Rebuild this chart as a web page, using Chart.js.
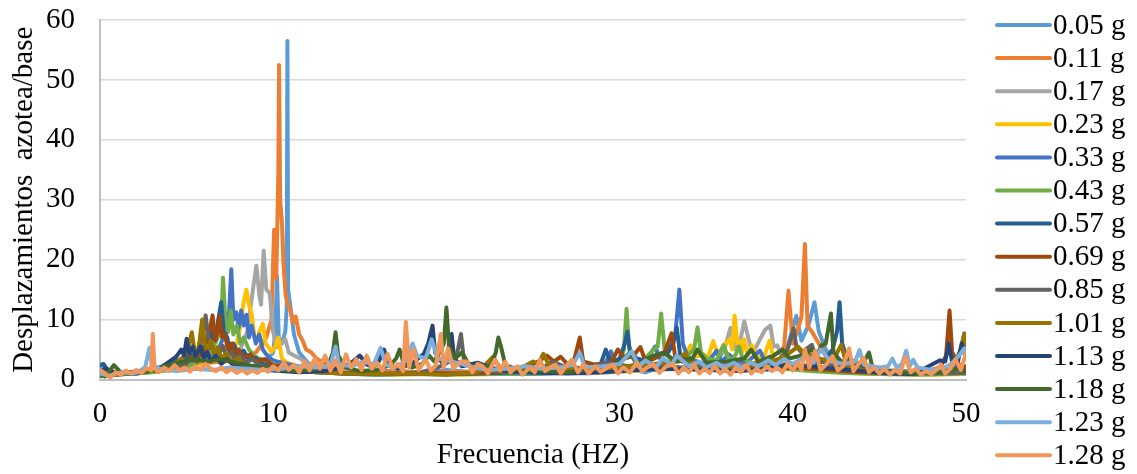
<!DOCTYPE html>
<html>
<head>
<meta charset="utf-8">
<script src="https://cdn.jsdelivr.net/npm/chart.js@4"></script>
<style>
  html, body { margin: 0; padding: 0; background: #fff; }
  #wrap { width: 1137px; height: 474px; }
</style>
</head>
<body>
<div id="wrap"><canvas id="chart"></canvas></div>
<script>
// Espectros azotea/base: [frecuencia (Hz), amplitud] por cada nivel de aceleración
const g005 = [[0,1.4],[0.2,2.5],[0.6,1.2],[1.2,1.0],[2,1.3],[2.8,1.6],[3.6,1.5],[4.5,2.2],[5.3,2.6],[6.1,3.0],[6.9,3.4],[7.6,3.8],[8.3,4.2],[9.0,3.6],[9.6,3.2],[10.0,4.5],[10.12,8],[10.22,17.3],[10.32,7],[10.5,6],[10.7,8],[10.78,12],[10.82,56.5],[10.86,15],[11.0,12],[11.2,7.5],[11.5,4.5],[12.0,2.8],[12.8,1.8],[14,1.4],[15.5,1.2],[17,1.5],[18.5,1.1],[20,1.6],[21.5,1.2],[23,1.4],[24.5,1.1],[26,1.5],[27.5,1.3],[29,1.7],[30.5,1.8],[31.5,1.2],[32.5,2.2],[33.5,1.5],[34.5,2.6],[35.5,1.8],[36.5,2.8],[37.5,2.0],[38.4,3.2],[38.9,2.4],[39.6,4.5],[40.2,10.6],[40.5,6.5],[40.9,9.0],[41.25,12.9],[41.5,8.0],[41.9,5.0],[42.5,3.2],[43.5,2.2],[45,1.6],[46.5,1.4],[48,1.2],[49.2,1.5],[50,1.2]];
const g011 = [[0,1.0],[0.8,1.3],[1.8,1.1],[3,1.5],[4.2,2.0],[5.2,2.2],[6.2,2.8],[7.2,3.0],[8.2,3.5],[9.0,4.5],[9.6,7.0],[9.9,10],[10.05,25],[10.18,17],[10.3,35],[10.34,52.5],[10.4,30],[10.5,26.5],[10.6,19],[10.72,14],[10.85,12.5],[11.0,11.5],[11.15,9.5],[11.3,10.5],[11.5,7.5],[11.7,6.5],[11.9,5.0],[12.2,4.5],[12.5,3.5],[13,2.6],[14,1.6],[15.5,1.2],[17,1.4],[19,1.1],[21,1.3],[23,1.2],[25,1.4],[27,1.3],[29,1.5],[31,1.6],[33,2.0],[35,1.8],[36.5,2.4],[37.8,2.8],[38.8,4.0],[39.3,4.7],[39.5,5.5],[39.75,14.8],[40.0,6.0],[40.3,8.5],[40.5,10.5],[40.7,22.6],[40.85,9.0],[41.1,8.0],[41.3,7.0],[41.6,5.5],[42,3.5],[42.6,2.5],[43.5,1.8],[45,1.4],[47,1.2],[49,1.3],[50,1.1]];
const g017 = [[0,0.8],[1,1.0],[2,1.2],[3,1.4],[4,1.8],[5,2.4],[6,3.0],[7,3.6],[7.6,4.2],[8.1,5.0],[8.5,8.0],[8.8,14.4],[9.03,19],[9.2,14],[9.3,12.5],[9.45,21.5],[9.6,15],[9.8,14.4],[10.0,8],[10.2,5.4],[10.4,6],[10.7,6.7],[10.9,4.5],[11.2,4.0],[11.5,3.6],[12,2.6],[13,1.8],[14.5,1.2],[16,1.0],[18,0.9],[20,1.1],[22,0.9],[24,1.0],[26,1.2],[28,1.0],[30,1.3],[32,1.6],[33.5,1.8],[34.5,2.4],[35.5,3.0],[36.0,4.5],[36.4,8.6],[36.7,5.0],[37.0,7.0],[37.2,9.7],[37.55,5.6],[37.8,5.0],[38.1,6.7],[38.4,8.3],[38.7,9.0],[38.9,5.5],[39.1,5.7],[39.4,3.5],[39.8,2.5],[40.5,2.0],[42,1.6],[44,1.2],[46,1.0],[48,0.9],[50,1.0]];
const g023 = [[0,0.7],[1.2,0.9],[2.4,1.1],[3.6,1.4],[4.8,2.0],[6,2.8],[7,3.4],[7.6,4.5],[7.9,6],[8.1,9],[8.3,13],[8.45,15],[8.6,12.5],[8.75,11],[8.9,7.5],[9.05,6.5],[9.2,8],[9.4,9.3],[9.55,6],[9.7,5.5],[9.9,4.6],[10.1,5.5],[10.3,7],[10.5,3.5],[10.8,2.8],[11.2,2.4],[11.8,2.0],[13,1.4],[15,1.0],[17,0.8],[19,1.0],[21,0.8],[23,0.9],[25,1.0],[27,1.1],[29,1.2],[31,1.5],[32.5,2.0],[33.3,3.0],[33.8,4.0],[34.1,5.7],[34.4,3.8],[34.85,4.2],[35.1,3.6],[35.4,6.4],[35.7,4.0],[36.0,5.7],[36.35,6.7],[36.5,5.0],[36.64,10.7],[36.8,6.0],[36.9,6.4],[37.05,4.5],[37.2,6.7],[37.4,4.0],[37.65,5.7],[37.9,3.8],[38.3,3.5],[38.66,6.5],[38.9,3.2],[39.5,2.9],[40.3,1.8],[42,1.3],[44,1.0],[46,0.9],[48,0.8],[50,0.9]];
const g033 = [[0,1.0],[1,0.8],[2,1.1],[3,1.3],[4,1.8],[5,2.4],[5.8,3.0],[6.4,4.0],[6.9,5.5],[7.2,7.5],[7.4,8],[7.58,18.4],[7.7,10],[7.87,11.2],[8.0,8.5],[8.15,11.5],[8.3,9],[8.45,10.8],[8.6,7],[8.75,9],[9.0,6],[9.2,7.5],[9.4,5],[9.6,4.2],[9.8,3.5],[10.2,3.0],[10.8,2.6],[11.2,2.4],[11.6,2],[12.5,1.4],[14,1.0],[16,0.8],[18,1.0],[20,0.9],[22,1.1],[24,0.9],[26,1.0],[28,1.2],[29,1.6],[29.5,4.7],[29.8,2.2],[30.5,2.2],[31.5,3.0],[32.05,5.5],[32.3,3.6],[32.8,5.0],[33.2,7.0],[33.45,15],[33.65,6],[33.9,4.0],[34.3,3.2],[35,2.5],[35.6,4.8],[35.9,3.0],[36.3,4.2],[36.8,3.0],[37.4,3.0],[38.1,4.8],[38.5,2.4],[39,2.0],[40,1.8],[41,2.0],[42,1.6],[43.5,1.2],[45,1.0],[47,0.9],[48.5,1.2],[49.4,3.0],[49.7,5.0],[49.9,7.7],[50,5.0]];
const g043 = [[0,0.6],[1,0.9],[2,1.0],[3,1.2],[4,1.6],[5,2.2],[5.8,3.0],[6.4,4.5],[6.8,7.0],[7.0,9.0],[7.1,17],[7.25,9.5],[7.4,8.0],[7.55,11.5],[7.7,7.5],[7.9,9.0],[8.1,6.0],[8.3,7.0],[8.6,5.0],[8.9,4.0],[9.3,3.2],[9.7,2.8],[10.2,2.4],[10.8,2.0],[11.5,1.6],[12.5,1.2],[14,1.0],[16,0.8],[18,0.9],[20,0.8],[22,1.0],[24,0.9],[26,1.1],[28,1.3],[29.4,2.0],[30.0,3.0],[30.25,5.0],[30.4,11.8],[30.55,5.5],[30.8,3.5],[31.3,3.0],[31.96,5.0],[32.2,5.5],[32.4,11],[32.6,5.0],[32.9,3.5],[33.4,3.0],[33.9,4.0],[34.3,5.0],[34.5,8.7],[34.7,4.5],[35.0,3.5],[35.6,3.2],[36.0,5.7],[36.3,3.5],[36.6,3.5],[36.9,5.5],[37.1,3.5],[37.6,2.8],[38.3,2.2],[39.5,1.8],[41,1.4],[43,1.1],[45,0.9],[47,0.8],[49,0.9],[50,1.0]];
const g057 = [[0,2.4],[0.2,2.6],[0.5,1.2],[1.2,1.0],[2,1.3],[3,1.5],[4,2.2],[4.5,3.2],[4.8,2.6],[5.2,4.4],[5.4,3.2],[5.7,5.2],[5.9,4.0],[6.1,6.8],[6.3,5.2],[6.5,8.0],[6.65,6.5],[6.8,9.5],[7.0,12.9],[7.15,8.0],[7.35,7.0],[7.5,4.6],[7.7,6.0],[8.0,4.2],[8.3,4.8],[8.6,3.2],[9.0,3.6],[9.4,2.6],[10,2.0],[11,1.6],[12.5,1.2],[14,1.0],[16,0.9],[18,1.1],[20,0.9],[22,1.0],[24,1.2],[26,1.1],[28,1.4],[28.9,2.5],[29.2,5.0],[29.5,2.8],[30.0,3.5],[30.3,6.0],[30.45,8.0],[30.6,4.5],[31.0,3.5],[31.6,3.0],[32.2,3.8],[32.8,4.5],[33.1,6.0],[33.3,8.7],[33.5,4.0],[34,3.0],[35,2.0],[36,1.6],[37,2.0],[38,1.5],[39,1.8],[40,2.0],[41,2.4],[41.8,3.0],[42.3,5.0],[42.55,8.0],[42.7,12.9],[42.85,6.0],[43.2,3.0],[44,1.8],[45.5,1.2],[47,1.0],[48.5,1.2],[49.5,2.0],[50,2.2]];
const g069 = [[0,0.8],[1,1.0],[2,1.2],[3,1.5],[4,2.0],[4.5,2.8],[4.9,2.4],[5.3,3.8],[5.6,3.0],[5.9,5.0],[6.05,4.2],[6.2,7.0],[6.35,8.5],[6.5,10.7],[6.65,6.5],[6.8,8.0],[6.9,10.6],[7.05,7.0],[7.2,7.5],[7.4,5.0],[7.6,6.0],[7.8,4.2],[8.0,5.0],[8.3,3.6],[8.7,4.2],[9,3.0],[9.5,3.4],[10,2.4],[11,2.0],[12,1.6],[13.5,1.2],[15,1.0],[17,0.9],[19,1.1],[21,1.0],[23,1.2],[24.5,1.8],[25.3,3.0],[25.8,4.0],[26.2,3.0],[26.6,3.8],[27.0,2.5],[27.4,3.5],[27.7,7.0],[27.9,3.0],[28.5,2.5],[29.5,2.8],[29.9,5.0],[30.3,3.5],[30.8,4.0],[31.2,5.4],[31.5,3.0],[32,3.5],[32.6,4.5],[33.0,7.7],[33.2,4.0],[33.6,3.0],[34.5,2.4],[36,2.0],[38,1.8],[40,2.0],[42,1.6],[44,1.2],[46,1.0],[47.5,1.2],[48.5,2.0],[48.85,4.0],[49.05,11.5],[49.2,4.5],[49.6,2.5],[50,2.0]];
const g085 = [[0,0.7],[1,0.9],[2,1.1],[3,1.4],[4,1.8],[4.8,2.5],[5.4,3.5],[5.7,5.0],[5.9,7.0],[6.1,10.7],[6.25,7.0],[6.4,6.0],[6.6,5.0],[6.9,4.4],[7.1,5.6],[7.3,3.8],[7.6,4.6],[7.8,3.2],[8.1,4.0],[8.4,2.8],[8.8,3.4],[9.2,2.4],[10,2.0],[11,1.8],[12,1.4],[13.5,1.1],[15,1.0],[17,0.9],[18.5,1.2],[19.5,2.0],[20.2,3.0],[20.6,4.0],[20.84,7.6],[21.0,3.5],[21.5,2.0],[22.5,1.4],[24,1.2],[25.5,1.8],[26.1,3.0],[26.8,2.2],[28,1.8],[29.3,2.8],[31,2.0],[32.5,2.4],[33.5,2.0],[35,2.2],[36.5,2.0],[37.5,2.4],[38.5,2.8],[39.3,3.5],[39.7,5.0],[40.05,8.5],[40.2,5.5],[40.5,4.5],[41.1,5.8],[41.3,4.0],[41.7,3.0],[42.5,2.2],[44,1.6],[46,1.2],[48,1.0],[50,1.1]];
const g101 = [[0,0.6],[1,0.8],[2,1.1],[3,1.4],[3.8,2.0],[4.4,2.8],[4.9,4.0],[5.1,5.5],[5.3,7.9],[5.45,5.0],[5.6,4.0],[5.75,6.5],[5.9,10],[6.05,6.0],[6.2,5.0],[6.4,6.5],[6.6,4.2],[6.8,5.4],[7,3.5],[7.3,4.4],[7.6,2.8],[8.0,3.6],[8.3,2.4],[9,2.0],[10,1.7],[11,1.5],[12.5,1.2],[14,1.0],[16,0.9],[18,1.0],[20,0.8],[21.8,1.2],[22.7,3.8],[23.2,1.4],[24.5,2.2],[25.0,3.0],[25.3,2.6],[25.6,4.3],[25.9,2.5],[26.5,2.0],[27.5,1.6],[29,1.8],[30.5,2.2],[32,2.6],[33.2,3.0],[33.8,4.4],[34.0,3.0],[35,2.4],[36.5,2.0],[38,2.6],[39,3.2],[39.6,4.0],[40.3,5.5],[40.6,4.5],[41.0,4.2],[41.5,3.5],[42.3,3.0],[42.8,5.8],[43.1,2.4],[44,1.6],[45.5,1.2],[47,1.0],[48.5,1.4],[49.4,3.0],[49.7,5.0],[49.9,7.6],[50,5.5]];
const g113 = [[0,1.2],[0.3,1.8],[1,1.0],[2,1.2],[3,1.6],[3.6,2.2],[4.0,3.0],[4.4,3.8],[4.7,5.0],[4.85,4.0],[5.0,6.8],[5.15,4.5],[5.35,5.5],[5.5,3.8],[5.8,5.5],[6.0,3.5],[6.2,4.6],[6.4,3.0],[6.7,4.0],[7,2.6],[7.3,3.4],[7.8,2.2],[8.8,1.8],[10,1.5],[11.5,1.2],[13,1.4],[14,2.0],[14.6,3.0],[15.0,4.0],[15.4,2.5],[15.8,2.0],[16.1,3.0],[16.4,5.0],[16.7,2.5],[17.2,1.8],[18.0,2.6],[18.7,4.3],[18.95,6.0],[19.2,9.0],[19.35,4.5],[19.7,3.0],[20.0,3.5],[20.3,7.6],[20.45,3.5],[20.9,2.2],[21.8,2.8],[22.5,2.0],[23.5,1.4],[25,1.2],[27,1.0],[29,1.2],[31,1.6],[33,1.8],[35,1.6],[37,1.4],[38.5,1.8],[39.8,2.6],[41,2.2],[42.5,1.8],[44,1.4],[45.5,1.0],[47,0.9],[48.5,3.2],[48.8,3.0],[49.0,6.0],[49.2,3.0],[49.5,2.5],[49.75,6.0],[50,3.5]];
const g118 = [[0,0.8],[0.3,0.5],[0.8,2.4],[1.2,1.2],[2,0.9],[2.8,1.4],[3.5,2.0],[4.2,2.6],[4.8,3.0],[5.5,3.4],[6.2,3.0],[7,3.4],[7.8,2.8],[8.6,2.4],[9.5,2.0],[10.5,1.6],[11.5,1.4],[12.5,1.8],[13.2,2.6],[13.45,4.5],[13.6,7.9],[13.75,4.0],[14.2,2.0],[15,1.4],[16,1.6],[16.8,2.5],[17.1,3.5],[17.3,5.0],[17.5,3.0],[18,2.0],[18.6,2.6],[19.0,4.0],[19.3,3.0],[19.6,4.5],[19.85,6.0],[20.0,12],[20.15,5.5],[20.5,3.5],[20.9,4.5],[21.3,2.5],[22,1.8],[22.6,2.5],[22.85,4.5],[23.0,7.0],[23.15,5.5],[23.4,2.4],[24.2,1.6],[25.5,1.4],[27,1.2],[28.5,1.8],[29.6,2.5],[30.1,3.2],[30.6,4.5],[31.0,2.5],[31.8,3.8],[32.5,4.5],[33.3,3.0],[34.2,3.5],[34.5,5.0],[35,2.8],[36.2,3.0],[37.2,3.5],[37.6,5.0],[38,3.0],[38.8,3.8],[39.4,5.0],[39.8,3.5],[40.5,4.0],[41.1,5.0],[41.4,4.0],[41.65,5.7],[41.9,6.0],[42.2,11],[42.35,4.5],[42.8,3.0],[43.4,3.2],[44.0,2.4],[44.4,4.5],[44.6,2.0],[45.5,1.4],[47,1.0],[48.5,1.2],[49.5,1.8],[50,1.4]];
const g123 = [[0,1.0],[0.5,0.6],[1.2,1.2],[2,1.0],[2.6,2.0],[2.86,5.3],[3.0,2.5],[3.6,1.6],[4.5,1.4],[5.5,1.8],[6.5,1.6],[7.5,2.0],[8.5,1.8],[9.5,1.6],[10.5,1.8],[11.5,2.2],[12.5,2.0],[13.3,2.4],[13.6,5.5],[13.8,2.5],[14.5,2.2],[15.2,3.0],[15.8,2.5],[16.2,5.3],[16.5,2.5],[17,2.0],[17.6,3.0],[18.05,6.0],[18.3,4.0],[18.8,3.5],[19.15,6.7],[19.5,3.5],[20.3,3.0],[21,2.5],[21.6,2.0],[22.4,1.6],[23.5,1.8],[24.6,2.2],[25.5,1.8],[26.5,2.0],[27.3,2.4],[27.7,4.5],[28,2.0],[29,2.2],[30,2.6],[30.7,4.7],[31.1,2.2],[31.5,3.2],[32.1,2.0],[32.5,3.6],[33.0,2.4],[33.3,4.0],[34,2.2],[34.6,3.0],[35,2.0],[35.6,2.8],[36,2.0],[36.6,2.8],[37,2.0],[37.6,2.8],[38,2.2],[38.6,3.2],[39,2.4],[39.5,3.4],[40,2.6],[40.8,4.0],[41.2,2.8],[41.6,5.0],[42.2,3.0],[43,2.6],[43.6,3.0],[43.85,4.9],[44.1,2.5],[45,2.0],[45.5,2.2],[45.75,3.5],[46.0,2.0],[46.3,2.6],[46.55,4.8],[46.75,2.2],[46.95,3.3],[47.2,2.0],[48,1.6],[49,2.2],[49.6,4.0],[49.9,5.2],[50,3.5]];
const g128 = [[0,1.6],[0.3,1.0],[0.6,0.3],[0.9,1.2],[1.2,0.8],[1.5,1.5],[1.8,1.0],[2.1,1.6],[2.4,1.1],[2.7,1.9],[2.95,1.5],[3.05,7.6],[3.15,1.8],[3.4,1.2],[3.7,2.0],[4.0,1.4],[4.3,2.4],[4.6,1.5],[4.9,2.0],[5.2,1.3],[5.5,2.2],[5.8,1.6],[6.1,2.6],[6.4,1.8],[6.7,1.4],[7.0,2.0],[7.3,1.2],[7.6,1.8],[7.9,1.1],[8.2,1.6],[8.5,1.0],[8.8,1.5],[9.1,1.1],[9.4,1.8],[9.7,1.3],[10.0,2.2],[10.3,1.5],[10.6,2.8],[10.9,1.6],[11.2,2.5],[11.5,1.2],[11.8,3.0],[12.1,1.5],[12.4,3.5],[12.7,1.8],[13.0,4.0],[13.3,1.5],[13.6,3.2],[13.9,1.2],[14.2,4.2],[14.5,2.0],[14.8,3.4],[15.1,1.6],[15.4,4.0],[15.7,1.8],[16.0,2.8],[16.3,1.5],[16.6,4.3],[16.9,1.8],[17.2,2.6],[17.5,1.4],[17.66,9.6],[17.85,2.0],[18.1,5.0],[18.4,1.6],[18.8,3.3],[19.1,1.5],[19.4,2.4],[19.67,7.6],[19.85,2.0],[20.1,5.2],[20.4,1.8],[20.8,3.0],[21.2,3.0],[21.5,1.2],[21.8,2.6],[22.1,2.2],[22.4,1.0],[22.8,3.3],[23.1,1.5],[23.4,3.0],[23.7,1.2],[24.1,2.2],[24.4,0.8],[24.8,2.0],[25.1,1.2],[25.4,3.3],[25.7,1.4],[26.0,2.0],[26.3,2.5],[26.6,1.0],[26.9,2.2],[27.25,3.3],[27.6,1.2],[27.9,2.5],[28.2,1.0],[28.6,2.2],[28.9,1.3],[29.2,1.8],[29.6,2.5],[29.9,1.0],[30.2,2.0],[30.6,1.2],[31.0,2.8],[31.3,1.4],[31.6,2.0],[31.96,2.5],[32.3,1.1],[32.7,2.2],[33.1,2.5],[33.4,1.0],[33.7,2.0],[34.0,1.2],[34.3,2.4],[34.6,1.0],[34.9,1.8],[35.2,1.1],[35.5,2.2],[35.8,1.0],[36.1,1.8],[36.4,0.8],[36.7,2.0],[37.0,1.2],[37.3,2.4],[37.6,1.0],[37.9,1.8],[38.2,1.2],[38.5,2.2],[38.8,1.4],[39.1,2.0],[39.4,1.2],[39.7,2.6],[40.0,1.5],[40.3,2.8],[40.5,1.6],[40.7,5.0],[40.95,2.0],[41.3,4.8],[41.6,1.6],[41.9,2.4],[42.3,3.9],[42.6,1.5],[42.9,2.2],[43.25,5.2],[43.5,1.4],[43.8,2.6],[44.1,3.6],[44.4,1.2],[44.7,2.0],[45.0,1.0],[45.3,1.8],[45.6,0.8],[45.9,1.6],[46.2,1.0],[46.5,3.8],[46.8,1.2],[47.1,1.8],[47.4,0.8],[47.7,1.4],[48.0,0.9],[48.3,1.6],[48.55,2.5],[48.8,1.0],[49.1,1.8],[49.4,3.3],[49.7,1.6],[50,4.4]];

const seriesNames = ["0.05 g", "0.11 g", "0.17 g", "0.23 g", "0.33 g", "0.43 g", "0.57 g", "0.69 g", "0.85 g", "1.01 g", "1.13 g", "1.18 g", "1.23 g", "1.28 g"];
const seriesData = [g005, g011, g017, g023, g033, g043, g057, g069, g085, g101, g113, g118, g123, g128];
const seriesColors = ["#5B9BD5", "#ED7D31", "#A5A5A5", "#FFC000", "#4472C4", "#70AD47", "#255E91", "#9E480E", "#636363", "#997300", "#264478", "#43682B", "#7CAFDD", "#F1975A"];

const serif = "'Liberation Serif', 'Times New Roman', serif";

// legend on the right: short line sample + label
const sideLegend = {
  id: "sideLegend",
  afterDraw(chart) {
    const ctx = chart.ctx;
    const x0 = chart.chartArea.right + 31;
    ctx.save();
    ctx.font = "29px " + serif;
    ctx.textBaseline = "middle";
    ctx.fillStyle = "#000";
    chart.data.datasets.forEach((ds, i) => {
      const y = 25 + i * 33.1;
      ctx.strokeStyle = ds.borderColor;
      ctx.lineWidth = 4;
      ctx.lineCap = "round";
      ctx.beginPath();
      ctx.moveTo(x0, y);
      ctx.lineTo(x0 + 53, y);
      ctx.stroke();
      ctx.fillText(ds.label, x0 + 56, y + 1);
    });
    ctx.restore();
  }
};

new Chart(document.getElementById("chart"), {
  type: "line",
  data: {
    datasets: seriesNames.map((name, i) => ({
      label: name,
      data: seriesData[i].map(([x, y]) => ({ x, y })),
      borderColor: seriesColors[i],
      backgroundColor: seriesColors[i],
      borderWidth: 4,
      pointRadius: 0,
      tension: 0,
      borderJoinStyle: "round",
      borderCapStyle: "round",
      order: seriesNames.length - 1 - i, // later series drawn on top
    })),
  },
  options: {
    responsive: true,
    maintainAspectRatio: false,
    animation: false,
    layout: { padding: { top: 20, right: 171, left: 0, bottom: 0 } },
    plugins: {
      legend: { display: false },
      tooltip: { enabled: false },
    },
    scales: {
      x: {
        type: "linear",
        min: 0,
        max: 50,
        afterFit(scale) { scale.height = 94.5; scale.paddingLeft = 0; scale.paddingRight = 0; },
        grid: { display: false, drawTicks: false },
        border: { display: true, color: "#bfbfbf", width: 2 },
        ticks: { stepSize: 10, padding: 17, color: "#000", font: { family: serif, size: 29 } },
        title: {
          display: true,
          text: "Frecuencia (HZ)",
          color: "#000",
          font: { family: serif, size: 29, lineHeight: 1.2 },
          padding: { top: 0, bottom: 1 },
        },
      },
      y: {
        min: 0,
        max: 60,
        afterFit(scale) { scale.width = 100; scale.paddingTop = 0; scale.paddingBottom = 0; },
        grid: { color: "#d9d9d9", lineWidth: 1.5, drawTicks: false },
        border: { display: true, color: "#bfbfbf", width: 2 },
        ticks: { stepSize: 10, padding: 25, color: "#000", font: { family: serif, size: 29 } },
        title: {
          display: true,
          text: "Desplazamientos  azotea/base",
          color: "#000",
          font: { family: serif, size: 29, lineHeight: 1.2 },
          padding: { top: 6.5, bottom: 0 },
        },
      },
    },
  },
  plugins: [sideLegend],
});
</script>
</body>
</html>
